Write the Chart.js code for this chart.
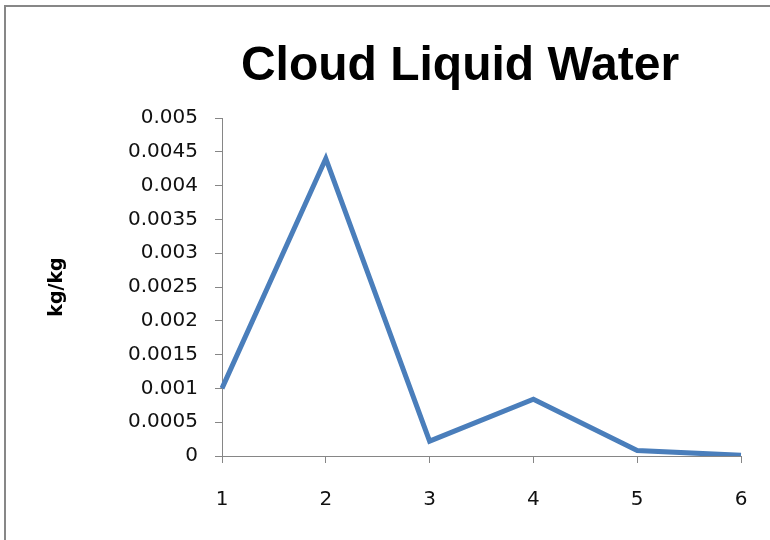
<!DOCTYPE html>
<html>
<head>
<meta charset="utf-8">
<script src="https://cdn.jsdelivr.net/npm/chart.js@4/dist/chart.umd.min.js"></script>
<style>
html,body{margin:0;padding:0;background:#fff;}
#wrap{width:770px;height:540px;position:relative;}
</style>
</head>
<body>
<div id="wrap"><canvas id="c" width="770" height="540"></canvas></div>
<script>
const chartTitle = "Cloud Liquid Water";
const yAxisTitle = "kg/kg";
const categories = ["1", "2", "3", "4", "5", "6"];
const cloudLiquidWater = [0.001, 0.0044, 0.00022, 0.00084, 0.00008, 0.00001];
const yTicks = [0, 0.0005, 0.001, 0.0015, 0.002, 0.0025, 0.003, 0.0035, 0.004, 0.0045, 0.005];

const framePlugin = {
  id: 'frame',
  beforeDraw(chart) {
    const ctx = chart.ctx;
    ctx.save();
    ctx.fillStyle = '#ffffff';
    ctx.fillRect(0, 0, chart.width, chart.height);
    ctx.strokeStyle = '#878787';
    ctx.lineWidth = 2;
    ctx.strokeRect(5, 6, 900, 700);
    ctx.restore();
  },
  afterDraw(chart) {
    const ctx = chart.ctx;
    ctx.save();
    ctx.fillStyle = '#000';
    ctx.font = 'bold 48px "Liberation Sans", Arial, sans-serif';
    ctx.textAlign = 'center';
    ctx.textBaseline = 'alphabetic';
    ctx.fillText(chartTitle, 460, 80);
    ctx.restore();
  }
};

new Chart(document.getElementById('c'), {
  type: 'line',
  data: {
    labels: categories,
    datasets: [{
      data: cloudLiquidWater,
      borderColor: '#4a7ebb',
      borderWidth: 5,
      pointRadius: 0,
      tension: 0,
      fill: false,
      borderJoinStyle: 'miter'
    }]
  },
  options: {
    responsive: false,
    animation: false,
    devicePixelRatio: 1,
    layout: { padding: { top: 118, right: 29, left: 0, bottom: 0 } },
    plugins: { legend: { display: false }, tooltip: { enabled: false }, title: { display: false } },
    scales: {
      x: {
        offset: false,
        grid: { display: true, drawOnChartArea: false, drawTicks: true, tickLength: 7, color: '#868686', offset: false },
        border: { display: true, color: '#868686', width: 1 },
        ticks: { color: '#111', font: { family: '"DejaVu Sans", sans-serif', size: 20 }, padding: 25, maxRotation: 0 },
        afterFit(scale) { scale.height = 84; scale.paddingLeft = 0; scale.paddingRight = 0; }
      },
      y: {
        min: 0, max: 0.005,
        afterBuildTicks(scale) { scale.ticks = yTicks.map(v => ({ value: v })); },
        grid: { display: true, drawOnChartArea: false, drawTicks: true, tickLength: 7, color: '#868686' },
        border: { display: true, color: '#868686', width: 1 },
        ticks: {
          color: '#111',
          font: { family: '"DejaVu Sans", sans-serif', size: 20 },
          padding: 17,
          callback: (v) => String(parseFloat(v.toFixed(4)))
        },
        title: {
          display: true,
          text: yAxisTitle,
          color: '#000',
          font: { family: '"DejaVu Sans", sans-serif', size: 19, weight: 'bold' },
          padding: { top: 46, bottom: 0 }
        },
        afterFit(scale) { scale.width = 222; }
      }
    }
  },
  plugins: [framePlugin]
});
</script>
</body>
</html>
